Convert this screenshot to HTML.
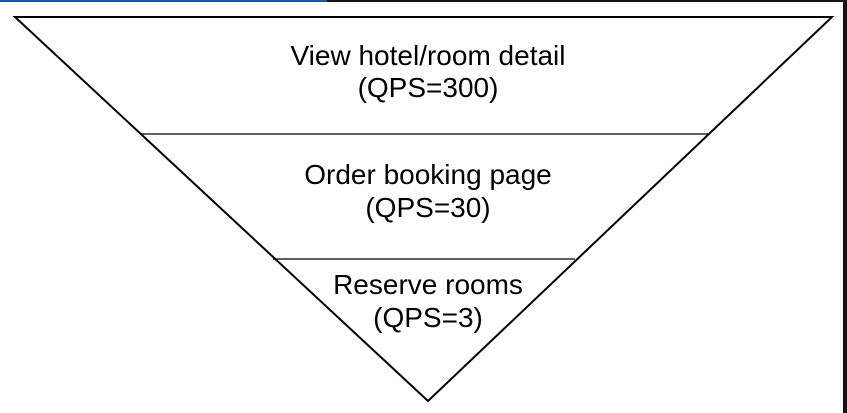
<!DOCTYPE html>
<html><head><style>
body{margin:0;width:847px;height:413px;background:#fff;overflow:hidden;position:relative;font-family:"Liberation Sans",Helvetica,Arial,sans-serif}
</style></head><body>
<div style="position:absolute;left:0;top:0;width:327px;height:2px;background:#1a56b0"></div>
<div style="position:absolute;left:327px;top:0;width:520px;height:2px;background:#111418"></div>
<div style="position:absolute;left:843px;top:0;width:4px;height:413px;background:#111418"></div>
<svg width="847" height="413" style="position:absolute;left:0;top:0">
<polygon points="15,17 832,17 428,401" fill="none" stroke="#000" stroke-width="2"/>
<line x1="141" y1="134" x2="708" y2="134" stroke="#000" stroke-width="1.3"/>
<line x1="273" y1="259" x2="575" y2="259" stroke="#000" stroke-width="1.3"/>
<g font-family="Liberation Sans, Helvetica, Arial, sans-serif" font-size="28" text-anchor="middle" fill="#000">
<text x="428" y="65">View hotel/room detail</text>
<text x="428" y="97">(QPS=300)</text>
<text x="428" y="184">Order booking page</text>
<text x="428" y="217">(QPS=30)</text>
<text x="428" y="294">Reserve rooms</text>
<text x="428" y="327">(QPS=3)</text>
</g>
</svg>
</body></html>
